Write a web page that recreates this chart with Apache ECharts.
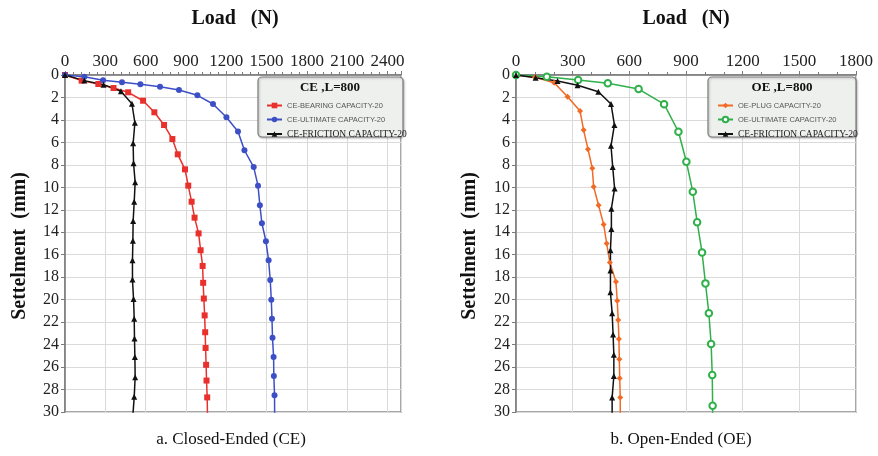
<!DOCTYPE html>
<html>
<head>
<meta charset="utf-8">
<script src="https://cdn.jsdelivr.net/npm/echarts@6/dist/echarts.min.js"></script>
<style>
html,body{margin:0;padding:0;background:#fff;}
#chart{width:878px;height:456px;}
</style>
</head>
<body>
<div id="chart"></div>
<script>
// ---------- Data (Load in N, Settlement in mm) ----------
// (a) Closed-Ended
var ceBearingLoad   = [0,124,248,361,470,581,665,737,799,839,893,917,942,964,994,1009,1024,1028,1033,1039,1043,1046,1050,1053,1058,1060];
var ceBearingSettle = [0,0.5,0.8,1.16,1.54,2.29,3.32,4.45,5.7,7.06,8.4,9.85,11.28,12.7,14.1,15.6,17.0,18.5,19.9,21.4,22.9,24.3,25.8,27.2,28.7,30.3];
var ceUltLoad   = [0,144,283,424,561,707,848,985,1101,1201,1287,1335,1404,1436,1450,1465,1495,1515,1527,1535,1540,1544,1552,1554,1559,1560];
var ceUltSettle = [0,0.15,0.47,0.65,0.83,1.04,1.34,1.81,2.58,3.76,5.03,6.7,8.2,9.85,11.6,13.2,14.8,16.5,18.25,20.0,21.7,23.4,25.1,26.8,28.5,30.3];
var ceFricLoad   = [0,144,287,416,498,520,507,510,522,515,507,505,502,502,510,515,517,520,522,515,505];
var ceFricSettle = [0,0.5,0.86,1.45,2.56,4.25,6.08,7.86,9.55,11.28,13.0,14.75,16.5,18.2,19.95,21.7,23.45,25.1,26.9,28.65,30.3];
// (b) Open-Ended
var oePlugLoad   = [0,100,202,273,339,358,381,404,411,437,464,480,497,529,536,541,545,547,549,552,552];
var oePlugSettle = [0,0.2,0.69,1.93,3.2,4.9,6.6,8.3,9.94,11.6,13.3,15.0,16.7,18.4,20.1,21.8,23.5,25.3,27.0,28.7,30.3];
var oeUltLoad   = [0,163,329,486,649,784,860,902,936,959,985,1003,1021,1033,1039,1041,1041];
var oeUltSettle = [0,0.15,0.45,0.74,1.25,2.6,5.05,7.72,10.4,13.1,15.8,18.55,21.2,23.95,26.7,29.45,30.3];
var oeFricLoad   = [0,104,220,326,436,503,521,503,512,522,505,505,500,500,500,509,514,518,518,509,509];
var oeFricSettle = [0,0.24,0.53,0.92,1.49,2.58,4.45,6.3,8.2,10.1,11.9,13.7,15.6,17.4,19.35,21.2,23.1,24.9,26.8,28.7,30.3];

// Axis ranges / ticks
var ceLoadAxis = {min:0, max:2500, interval:300};
var oeLoadAxis = {min:0, max:1800, interval:300};
var settleAxis = {min:0, max:30, interval:2};

var names = {
  ceB: 'CE-BEARING CAPACITY-20',
  ceU: 'CE-ULTIMATE CAPACITY-20',
  ceF: 'CE-FRICTION CAPACITY-20',
  oeP: 'OE-PLUG CAPACITY-20',
  oeU: 'OE-ULTIMATE CAPACITY-20'
};
var legendTitles = ['CE ,L=800', 'OE ,L=800'];
var axisTitleX = 'Load   (N)';
var axisTitleY = 'Settelment  (mm)';
var captions = ['a. Closed-Ended (CE)', 'b. Open-Ended (OE)'];

function zip(a, b){ return a.map(function(v,i){ return [v, b[i]]; }); }

var SERIF = '"Liberation Serif","Times New Roman",serif';
var SANS = '"Liberation Sans",Arial,sans-serif';

function xAx(gi, r, minorSplit){
  return {
    gridIndex: gi, type:'value', position:'top',
    min:r.min, max:r.max, interval:r.interval,
    axisLine:{show:true, onZero:false, lineStyle:{color:'#7a7a7a', width:1.5}},
    axisTick:{show:true, length:4, lineStyle:{color:'#7a7a7a'}},
    minorTick:{show:true, splitNumber:minorSplit, length:3, lineStyle:{color:'#7a7a7a'}},
    axisLabel:{fontFamily:SERIF, fontSize:17, color:'#222', margin:5,
      showMaxLabel: r.max % r.interval === 0,
      formatter:function(v){ return String(v); }},
    splitLine:{show:true, lineStyle:{color:'#dadada', width:1}}
  };
}
function yAx(gi){
  return {
    gridIndex: gi, type:'value', inverse:true,
    min:settleAxis.min, max:settleAxis.max, interval:settleAxis.interval,
    axisLine:{show:true, onZero:false, lineStyle:{color:'#7a7a7a', width:1.5}},
    axisTick:{show:true, length:4, lineStyle:{color:'#7a7a7a'}},
    axisLabel:{fontFamily:SERIF, fontSize:16, color:'#222', margin:6,
      formatter:function(v){ return String(v); }},
    splitLine:{show:true, lineStyle:{color:'#dadada', width:1}}
  };
}
function ser(name, gi, xs, ys, color, symbol, size, extra){
  var s = {
    name:name, type:'line', xAxisIndex:gi, yAxisIndex:gi,
    data: zip(xs, ys), clip:true,
    symbol:symbol, symbolSize:size, showAllSymbol:true,
    lineStyle:{color:color, width:1.5},
    itemStyle:{color:color},
    z:3
  };
  if (extra) { for (var k in extra) s[k] = extra[k]; }
  return s;
}

var chart = echarts.init(document.getElementById('chart'), null, {renderer:'canvas'});
var option = {
  backgroundColor:'#ffffff',
  animation:false,
  grid:[
    {left:65, top:75, width:336, height:337, show:true, borderColor:'#8a8a8a', borderWidth:1.5, backgroundColor:'#fff'},
    {left:516, top:75, width:340, height:337, show:true, borderColor:'#8a8a8a', borderWidth:1.5, backgroundColor:'#fff'}
  ],
  xAxis:[ xAx(0, ceLoadAxis, 5), xAx(1, oeLoadAxis, 3) ],
  yAxis:[ yAx(0), yAx(1) ],
  legend:[
    {
      left:261, top:96, orient:'vertical', itemGap:5, itemWidth:15, itemHeight:7, z:20,
      textStyle:{fontFamily:SANS, fontSize:7.5, color:'#555', lineHeight:9},
      data:[
        {name:names.ceB},
        {name:names.ceU},
        {name:names.ceF, textStyle:{fontFamily:SERIF, fontSize:9.5, color:'#222'}}
      ]
    },
    {
      left:712, top:96, orient:'vertical', itemGap:5, itemWidth:15, itemHeight:7, z:20,
      textStyle:{fontFamily:SANS, fontSize:7.5, color:'#555', lineHeight:9},
      data:[
        {name:names.oeP},
        {name:names.oeU},
        {name:names.ceF, textStyle:{fontFamily:SERIF, fontSize:9.5, color:'#222'}}
      ]
    }
  ],
  series:[
    ser(names.ceB, 0, ceBearingLoad, ceBearingSettle, '#e8302c', 'rect', 6),
    ser(names.ceU, 0, ceUltLoad, ceUltSettle, '#3d4fc6', 'circle', 6),
    ser(names.ceF, 0, ceFricLoad, ceFricSettle, '#111111', 'triangle', 6),
    ser(names.oeP, 1, oePlugLoad, oePlugSettle, '#f26a24', 'diamond', 6),
    ser(names.oeU, 1, oeUltLoad, oeUltSettle, '#2fb04a', 'emptyCircle', 6.5,
        {itemStyle:{color:'#2fb04a', borderColor:'#2fb04a', borderWidth:1.3}}),
    ser(names.ceF, 1, oeFricLoad, oeFricSettle, '#111111', 'triangle', 6)
  ],
  graphic:[
    // legend boxes
    {type:'rect', z:10, shape:{x:258, y:77, width:145, height:60, r:4},
     style:{fill:'#eef0ee', stroke:'#7c7c7c', lineWidth:1.2, shadowBlur:2, shadowColor:'rgba(0,0,0,0.25)', shadowOffsetX:1, shadowOffsetY:1}},
    {type:'rect', z:10, shape:{x:708, y:77, width:148, height:60, r:4},
     style:{fill:'#eef0ee', stroke:'#7c7c7c', lineWidth:1.2, shadowBlur:2, shadowColor:'rgba(0,0,0,0.25)', shadowOffsetX:1, shadowOffsetY:1}},
    {type:'text', z:11, style:{text:legendTitles[0], x:330, y:88, textAlign:'center', textVerticalAlign:'middle',
      font:'bold 13px '+SERIF, fill:'#111'}},
    {type:'text', z:11, style:{text:legendTitles[1], x:782, y:88, textAlign:'center', textVerticalAlign:'middle',
      font:'bold 13px '+SERIF, fill:'#111'}},
    // axis titles
    {type:'text', style:{text:axisTitleX, x:235, y:19, textAlign:'center', textVerticalAlign:'middle',
      font:'bold 20px '+SERIF, fill:'#111'}},
    {type:'text', style:{text:axisTitleX, x:686, y:19, textAlign:'center', textVerticalAlign:'middle',
      font:'bold 20px '+SERIF, fill:'#111'}},
    {type:'text', x:20, y:246, rotation:Math.PI/2, style:{text:axisTitleY, x:0, y:0, textAlign:'center', textVerticalAlign:'middle',
      font:'bold 20px '+SERIF, fill:'#111'}},
    {type:'text', x:470, y:246, rotation:Math.PI/2, style:{text:axisTitleY, x:0, y:0, textAlign:'center', textVerticalAlign:'middle',
      font:'bold 20px '+SERIF, fill:'#111'}},
    // captions
    {type:'text', style:{text:captions[0], x:231, y:440, textAlign:'center', textVerticalAlign:'middle',
      font:'17px '+SERIF, fill:'#111'}},
    {type:'text', style:{text:captions[1], x:681, y:440, textAlign:'center', textVerticalAlign:'middle',
      font:'17px '+SERIF, fill:'#111'}}
  ]
};
chart.setOption(option);
</script>
</body>
</html>
